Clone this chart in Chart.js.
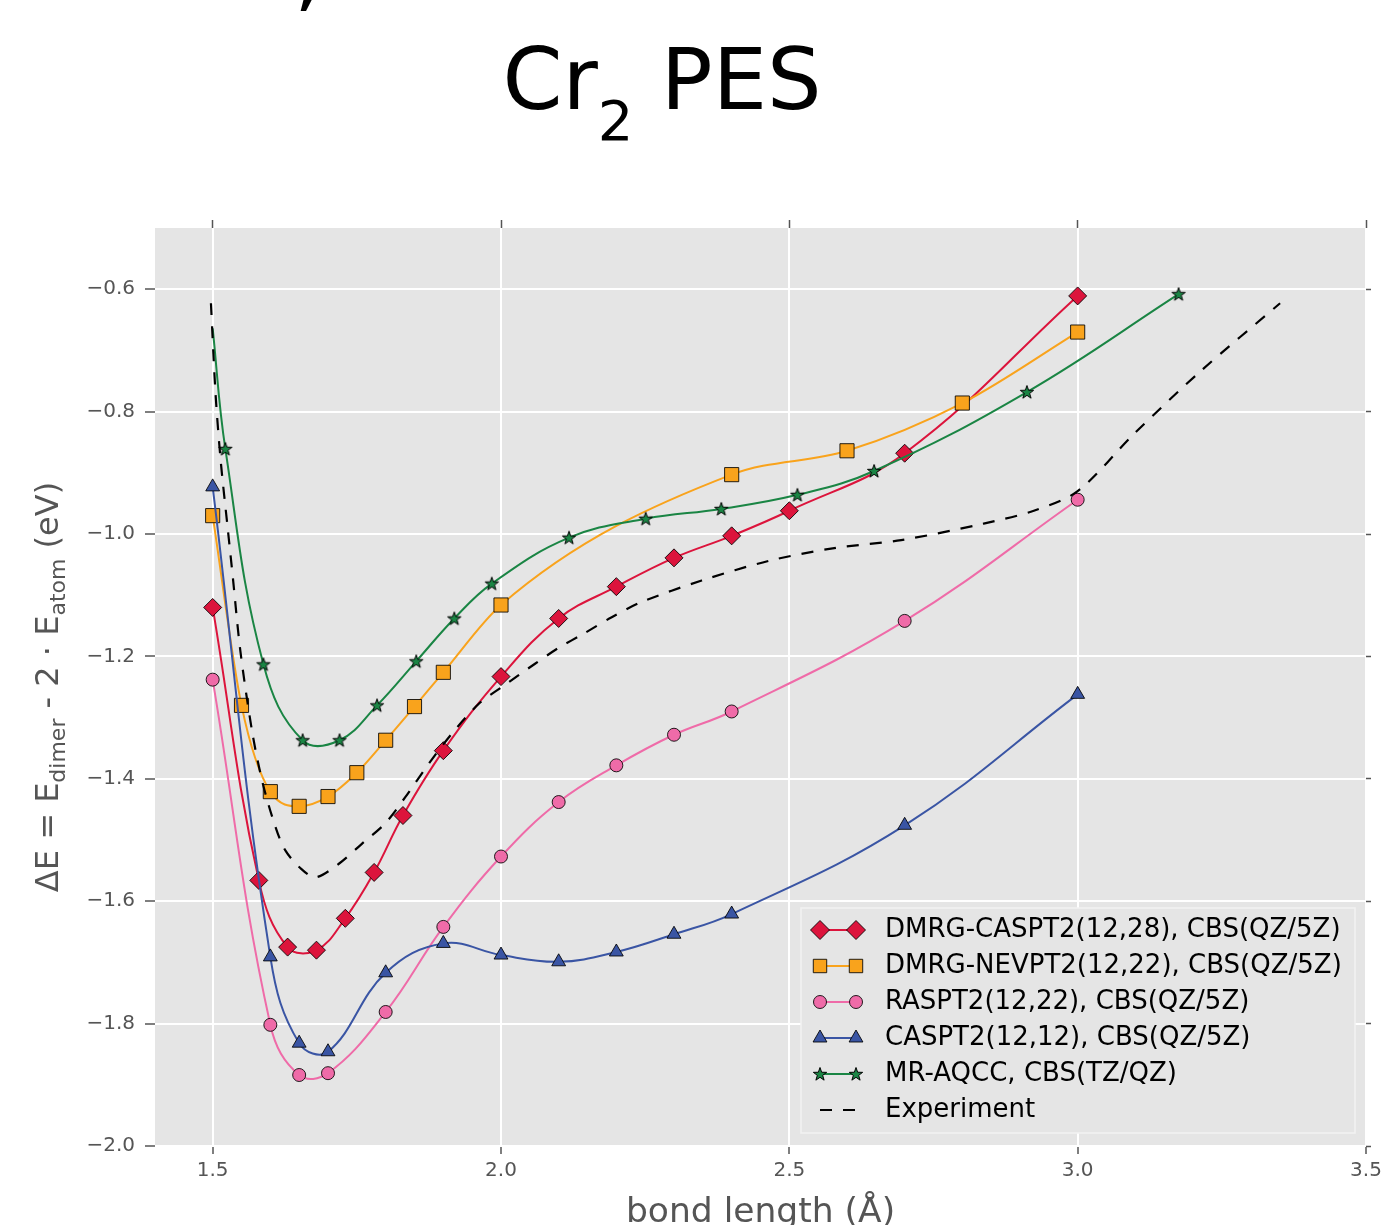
<!DOCTYPE html>
<html>
<head>
<meta charset="utf-8">
<title>Cr2 PES</title>
<script src="https://cdn.jsdelivr.net/npm/chart.js@4.4.0/dist/chart.umd.min.js"></script>
<style>
  body { margin: 0; background: #fff; }
  canvas { display: block; }
</style>
</head>
<body>
<canvas id="pes" width="1382" height="1225"></canvas>
<script>
// bond length (Å) / energy (eV)
const dmrgCaspt2X = [1.50, 1.58, 1.63, 1.68, 1.73, 1.78, 1.83, 1.90, 2.00, 2.10, 2.20, 2.30, 2.40, 2.50, 2.70, 3.00];
const dmrgCaspt2Y = [-1.120, -1.566, -1.675, -1.680, -1.628, -1.553, -1.460, -1.354, -1.233, -1.138, -1.086, -1.039, -1.003, -0.962, -0.868, -0.611];

const dmrgNevpt2X = [1.50, 1.55, 1.60, 1.65, 1.70, 1.75, 1.80, 1.85, 1.90, 2.00, 2.40, 2.60, 2.80, 3.00];
const dmrgNevpt2Y = [-0.970, -1.280, -1.421, -1.445, -1.429, -1.390, -1.337, -1.282, -1.226, -1.116, -0.903, -0.864, -0.786, -0.670];

const raspt2X = [1.50, 1.60, 1.65, 1.70, 1.80, 1.90, 2.00, 2.10, 2.20, 2.30, 2.40, 2.70, 3.00];
const raspt2Y = [-1.238, -1.802, -1.884, -1.881, -1.781, -1.642, -1.527, -1.438, -1.378, -1.328, -1.290, -1.142, -0.944];

const caspt2X = [1.50, 1.60, 1.65, 1.70, 1.80, 1.90, 2.00, 2.10, 2.20, 2.30, 2.40, 2.70, 3.00];
const caspt2Y = [-0.923, -1.691, -1.832, -1.846, -1.717, -1.669, -1.688, -1.699, -1.683, -1.654, -1.621, -1.476, -1.262];

// first point has no marker, the curve just starts there
const mrAqccX = [1.500, 1.522, 1.588, 1.656, 1.720, 1.785, 1.853, 1.919, 1.984, 2.118, 2.251, 2.382, 2.514, 2.647, 2.912, 3.175];
const mrAqccY = [-0.664, -0.861, -1.213, -1.337, -1.337, -1.280, -1.208, -1.138, -1.081, -1.006, -0.975, -0.959, -0.936, -0.897, -0.768, -0.608];

const expX = [1.497, 1.505, 1.514, 1.526, 1.535, 1.548, 1.569, 1.587, 1.609, 1.626, 1.651, 1.678, 1.720, 1.760, 1.799, 1.834, 1.875, 1.915, 1.962, 2.000,
              2.059, 2.100, 2.145, 2.192, 2.244, 2.348, 2.464, 2.578, 2.694, 2.837, 2.924, 3.000, 3.097, 3.213, 3.351];
const expY = [-0.623, -0.771, -0.881, -0.990, -1.071, -1.191, -1.326, -1.408, -1.479, -1.517, -1.545, -1.561, -1.538, -1.505, -1.473, -1.430, -1.375, -1.326, -1.277, -1.251,
              -1.212, -1.186, -1.162, -1.136, -1.111, -1.076, -1.044, -1.023, -1.010, -0.983, -0.962, -0.930, -0.837, -0.734, -0.623];

const seriesNames = [
  'DMRG-CASPT2(12,28), CBS(QZ/5Z)',
  'DMRG-NEVPT2(12,22), CBS(QZ/5Z)',
  'RASPT2(12,22), CBS(QZ/5Z)',
  'CASPT2(12,12), CBS(QZ/5Z)',
  'MR-AQCC, CBS(TZ/QZ)',
  'Experiment'
];

const xTicks = [1.5, 2.0, 2.5, 3.0, 3.5];
const yTicks = [-2.0, -1.8, -1.6, -1.4, -1.2, -1.0, -0.8, -0.6];

const RED = '#dc143c', ORANGE = '#f9a31c', PINK = '#ef6ba8', BLUE = '#3a55a4', GREEN = '#1a8544';
const FONT = '"DejaVu Sans", sans-serif';

function makeStar(r) {
  const c = document.createElement('canvas');
  const s = Math.ceil(r * 2 + 4);
  c.width = s; c.height = s;
  const g = c.getContext('2d');
  g.translate(s / 2, s / 2 + 0.5);
  g.beginPath();
  for (let i = 0; i < 10; i++) {
    const rr = i % 2 ? r * 0.4 : r;
    const a = -Math.PI / 2 + i * Math.PI / 5;
    g.lineTo(rr * Math.cos(a), rr * Math.sin(a));
  }
  g.closePath();
  g.fillStyle = GREEN;
  g.fill();
  g.strokeStyle = '#000';
  g.lineWidth = 1;
  g.stroke();
  return c;
}
const star = makeStar(7);

const pts = (xs, ys) => xs.map((x, i) => ({ x: x, y: ys[i] }));
const fmt = v => (v < 0 ? '\u2212' : '') + Math.abs(v).toFixed(1);

function lineSet(label, xs, ys, color, style, radius, order) {
  return {
    label: label,
    data: pts(xs, ys),
    showLine: true,
    borderColor: color,
    backgroundColor: color,
    borderWidth: 2,
    tension: 0.4,
    pointStyle: style,
    pointRadius: radius,
    pointBackgroundColor: color,
    pointBorderColor: 'rgba(0,0,0,0.85)',
    pointBorderWidth: 1,
    order: order
  };
}

const nevpt2Set = lineSet(seriesNames[1], dmrgNevpt2X, dmrgNevpt2Y, ORANGE, 'rect', 10, -1);
nevpt2Set.cubicInterpolationMode = 'monotone';

const datasets = [
  lineSet(seriesNames[0], dmrgCaspt2X, dmrgCaspt2Y, RED, 'rectRot', 9, 0),
  nevpt2Set,
  lineSet(seriesNames[2], raspt2X, raspt2Y, PINK, 'circle', 6.5, -2),
  lineSet(seriesNames[3], caspt2X, caspt2Y, BLUE, 'triangle', 8, -3),
  lineSet(seriesNames[4], mrAqccX, mrAqccY, GREEN, star, mrAqccX.map((_, i) => i === 0 ? 0 : 7), -4),
  {
    label: seriesNames[5],
    data: pts(expX, expY),
    showLine: true,
    borderColor: '#000',
    borderWidth: 2.2,
    borderDash: [12, 11],
    tension: 0.3,
    pointRadius: 0,
    order: -5
  }
];

const legendStyles = [
  { color: RED, style: 'rectRot', r: 9.5 },
  { color: ORANGE, style: 'rect', r: 9.5 },
  { color: PINK, style: 'circle', r: 6.5 },
  { color: BLUE, style: 'triangle', r: 8 },
  { color: GREEN, style: star, r: 7 },
  { color: '#000', dash: true }
];

const decorations = {
  id: 'decorations',
  beforeDraw(chart) {
    const { ctx, chartArea: a } = chart;
    ctx.save();
    ctx.fillStyle = '#e5e5e5';
    ctx.fillRect(a.left, a.top, a.right - a.left, a.bottom - a.top);
    ctx.restore();
  },
  afterDraw(chart) {
    const { ctx, chartArea: a } = chart;
    ctx.save();

    // title, with the tail of the cut-off line above it
    ctx.fillStyle = '#000';
    ctx.textBaseline = 'alphabetic';
    ctx.textAlign = 'left';
    ctx.font = '86px ' + FONT;
    ctx.fillText(',', 294, 1);
    const big = '86px ' + FONT, small = '56px ' + FONT;
    ctx.font = big; const w1 = ctx.measureText('Cr').width, w3 = ctx.measureText(' PES').width;
    ctx.font = small; const w2 = ctx.measureText('2').width;
    let tx = 662 - (w1 + w2 + w3) / 2;
    ctx.font = big; ctx.fillText('Cr', tx, 109); tx += w1;
    ctx.font = small; ctx.fillText('2', tx, 140); tx += w2;
    ctx.font = big; ctx.fillText(' PES', tx, 109);

    // x axis label
    ctx.fillStyle = '#555';
    ctx.font = '34.5px ' + FONT;
    ctx.textAlign = 'center';
    ctx.fillText('bond length (\u00c5)', (a.left + a.right) / 2, 1222);

    // y axis label with subscripts
    const parts = [['\u0394E = E', 32, 0], ['dimer', 22, 7], [' - 2 \u00b7 E', 32, 0], ['atom', 22, 7], [' (eV)', 32, 0]];
    let total = 0;
    parts.forEach(p => { ctx.font = p[1] + 'px ' + FONT; total += ctx.measureText(p[0]).width; });
    ctx.translate(58, (a.top + a.bottom) / 2 + total / 2);
    ctx.rotate(-Math.PI / 2);
    ctx.textAlign = 'left';
    let px = 0;
    parts.forEach(p => {
      ctx.font = p[1] + 'px ' + FONT;
      ctx.fillText(p[0], px, p[2]);
      px += ctx.measureText(p[0]).width;
    });
    ctx.setTransform(1, 0, 0, 1, 0, 0);

    // legend box inside the plot
    const bx = a.right - 565, by = a.bottom - 238, bw = 554, bh = 225;
    ctx.fillStyle = '#e5e5e5';
    ctx.fillRect(bx, by, bw, bh);
    ctx.strokeStyle = '#f2f2f2';
    ctx.lineWidth = 1.5;
    ctx.strokeRect(bx, by, bw, bh);
    ctx.font = '26px ' + FONT;
    ctx.textBaseline = 'middle';
    legendStyles.forEach((s, i) => {
      const y = by + 22 + i * 36;
      const x1 = bx + 19, x2 = bx + 55;
      ctx.beginPath();
      ctx.moveTo(x1, y);
      ctx.lineTo(x2, y);
      ctx.strokeStyle = s.color;
      ctx.lineWidth = s.dash ? 2.2 : 2;
      ctx.setLineDash(s.dash ? [12, 11] : []);
      ctx.stroke();
      ctx.setLineDash([]);
      if (!s.dash) {
        [x1, x2].forEach(mx => {
          if (s.style === star) {
            ctx.drawImage(star, mx - star.width / 2, y - star.height / 2);
          } else {
            ctx.fillStyle = s.color;
            ctx.strokeStyle = 'rgba(0,0,0,0.85)';
            ctx.lineWidth = 1;
            Chart.helpers.drawPoint(ctx, { pointStyle: s.style, radius: s.r, rotation: 0, borderWidth: 1 }, mx, y);
          }
        });
      }
      ctx.fillStyle = '#000';
      ctx.textAlign = 'left';
      ctx.fillText(seriesNames[i], bx + 84, y);
    });
    ctx.restore();
  }
};

const gridOpts = { color: '#fff', lineWidth: 2, tickColor: '#555', tickLength: 8, tickWidth: 1.5 };
const tickFont = { family: 'DejaVu Sans', size: 20 };

new Chart(document.getElementById('pes'), {
  type: 'scatter',
  data: { datasets: datasets },
  options: {
    responsive: false,
    animation: false,
    layout: { padding: 0 },
    plugins: { legend: { display: false }, tooltip: { enabled: false }, title: { display: false } },
    scales: {
      x: {
        type: 'linear', position: 'bottom', min: 1.4, max: 3.5,
        afterBuildTicks: s => { s.ticks = xTicks.map(v => ({ value: v })); },
        afterFit: s => { s.height = 79; s.paddingLeft = 0; s.paddingRight = 0; },
        grid: gridOpts,
        border: { display: false },
        ticks: { color: '#555', font: tickFont, padding: 5, maxRotation: 0, autoSkip: false, callback: fmt }
      },
      x2: {
        type: 'linear', position: 'top', min: 1.4, max: 3.5,
        afterBuildTicks: s => { s.ticks = xTicks.map(v => ({ value: v })); },
        afterFit: s => { s.height = 228; s.paddingLeft = 0; s.paddingRight = 0; },
        grid: { drawOnChartArea: false, tickColor: '#555', tickLength: 8, tickWidth: 1.5 },
        border: { display: false },
        ticks: { display: false }
      },
      y: {
        type: 'linear', position: 'left', min: -2.0, max: -0.5,
        afterBuildTicks: s => { s.ticks = yTicks.map(v => ({ value: v })); },
        afterFit: s => { s.width = 155; s.paddingTop = 0; s.paddingBottom = 0; },
        grid: { color: '#fff', lineWidth: 2, tickColor: '#555', tickLength: 10, tickWidth: 1.5 },
        border: { display: false },
        ticks: { color: '#555', font: tickFont, padding: 10, autoSkip: false, callback: fmt }
      },
      y2: {
        type: 'linear', position: 'right', min: -2.0, max: -0.5,
        afterBuildTicks: s => { s.ticks = yTicks.map(v => ({ value: v })); },
        afterFit: s => { s.width = 16; s.paddingTop = 0; s.paddingBottom = 0; },
        grid: { drawOnChartArea: false, tickColor: '#555', tickLength: 5, tickWidth: 1.5 },
        border: { display: false },
        ticks: { display: false }
      }
    }
  },
  plugins: [decorations]
});
</script>
</body>
</html>
